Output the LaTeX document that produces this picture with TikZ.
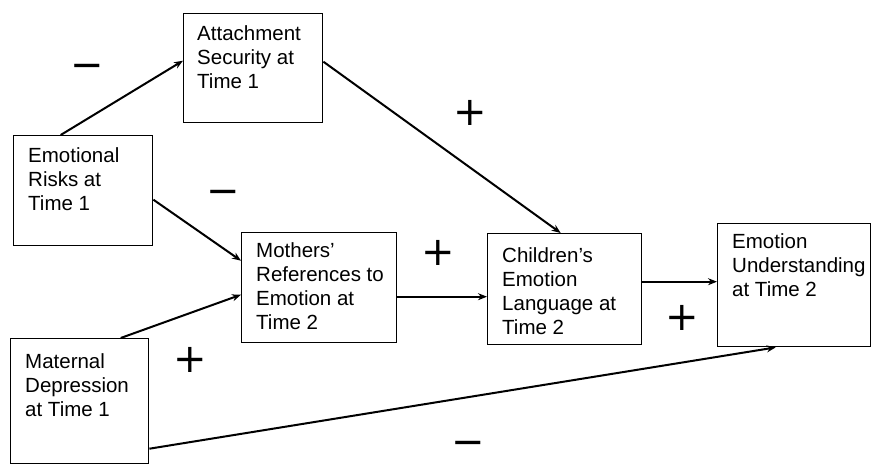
\documentclass[tikz,border=0pt]{standalone}
\usepackage{fontspec}
\setmainfont{Liberation Sans}
\newfontfamily\signfont{DejaVu Sans}
\usetikzlibrary{arrows.meta}
\begin{document}
\begin{tikzpicture}[x=1pt,y=-1pt,
  box/.style={draw=black, line width=1.4pt, rectangle, inner sep=0pt, anchor=north west},
  txt/.style={font=\fontsize{20.5}{24}\selectfont, align=left, inner sep=0pt, anchor=north west},
  arr/.style={draw=black, line width=2pt, -{Stealth[length=9pt,width=7pt]}},
  sign/.style={font=\signfont\fontsize{40}{40}\selectfont, inner sep=0pt}]
\useasboundingbox (0,0) rectangle (873,466);

\node[box, minimum width=139pt, minimum height=109pt] (att) at (183,13) {};
\node[box, minimum width=139pt, minimum height=110pt] (risk) at (13,135) {};
\node[box, minimum width=155pt, minimum height=110pt] (moth) at (241,232) {};
\node[box, minimum width=154pt, minimum height=111pt] (child) at (487,233) {};
\node[box, minimum width=153pt, minimum height=123pt] (eu) at (717,223) {};
\node[box, minimum width=138pt, minimum height=125pt] (mat) at (10,338) {};

\node[txt] (attT) at ([shift={(14pt,-12pt)}]att.north west) {Attachment\\Security at\\Time 1};
\node[txt] (riskT) at ([shift={(15pt,-12pt)}]risk.north west) {Emotional\\Risks at\\Time 1};
\node[txt] (mothT) at ([shift={(15pt,-10pt)}]moth.north west) {Mothers'\\References to\\Emotion at\\Time 2};
\node[txt] (childT) at ([shift={(15pt,-14pt)}]child.north west) {Children's\\Emotion\\Language at\\Time 2};
\node[txt] (euT) at ([shift={(15pt,-10pt)}]eu.north west) {Emotion\\Understanding\\at Time 2};
\node[txt] (matT) at ([shift={(15pt,-15pt)}]mat.north west) {Maternal\\Depression\\at Time 1};

\draw[arr] ([xshift=-22.5pt]risk.north) -- ([yshift=7.5pt]att.west);
\draw[arr] ([yshift=-9pt]risk.east) -- ([yshift=27pt]moth.west);
\draw[arr] ([xshift=41pt]mat.north) -- ([yshift=-7pt]moth.west);
\draw[arr] ([yshift=6.5pt]att.east) -- ([xshift=-4pt]child.north);
\draw[arr] ([yshift=-9pt]moth.east) -- ([yshift=-7.5pt]child.west);
\draw[arr] ([yshift=7.5pt]child.east) -- ([yshift=3.5pt]eu.west);
\draw[arr] ([yshift=-47.5pt]mat.east) -- ([xshift=-18.5pt]eu.south);

\node[sign] (s1) at (87,71) {−};
\node[sign] (s2) at (223,197) {−};
\node[sign] (s3) at (438,253) {+};
\node[sign] (s4) at (470,113) {+};
\node[sign] (s5) at (682,318) {+};
\node[sign] (s6) at (190,360) {+};
\node[sign] (s7) at (468,448) {−};
\end{tikzpicture}
\end{document}
